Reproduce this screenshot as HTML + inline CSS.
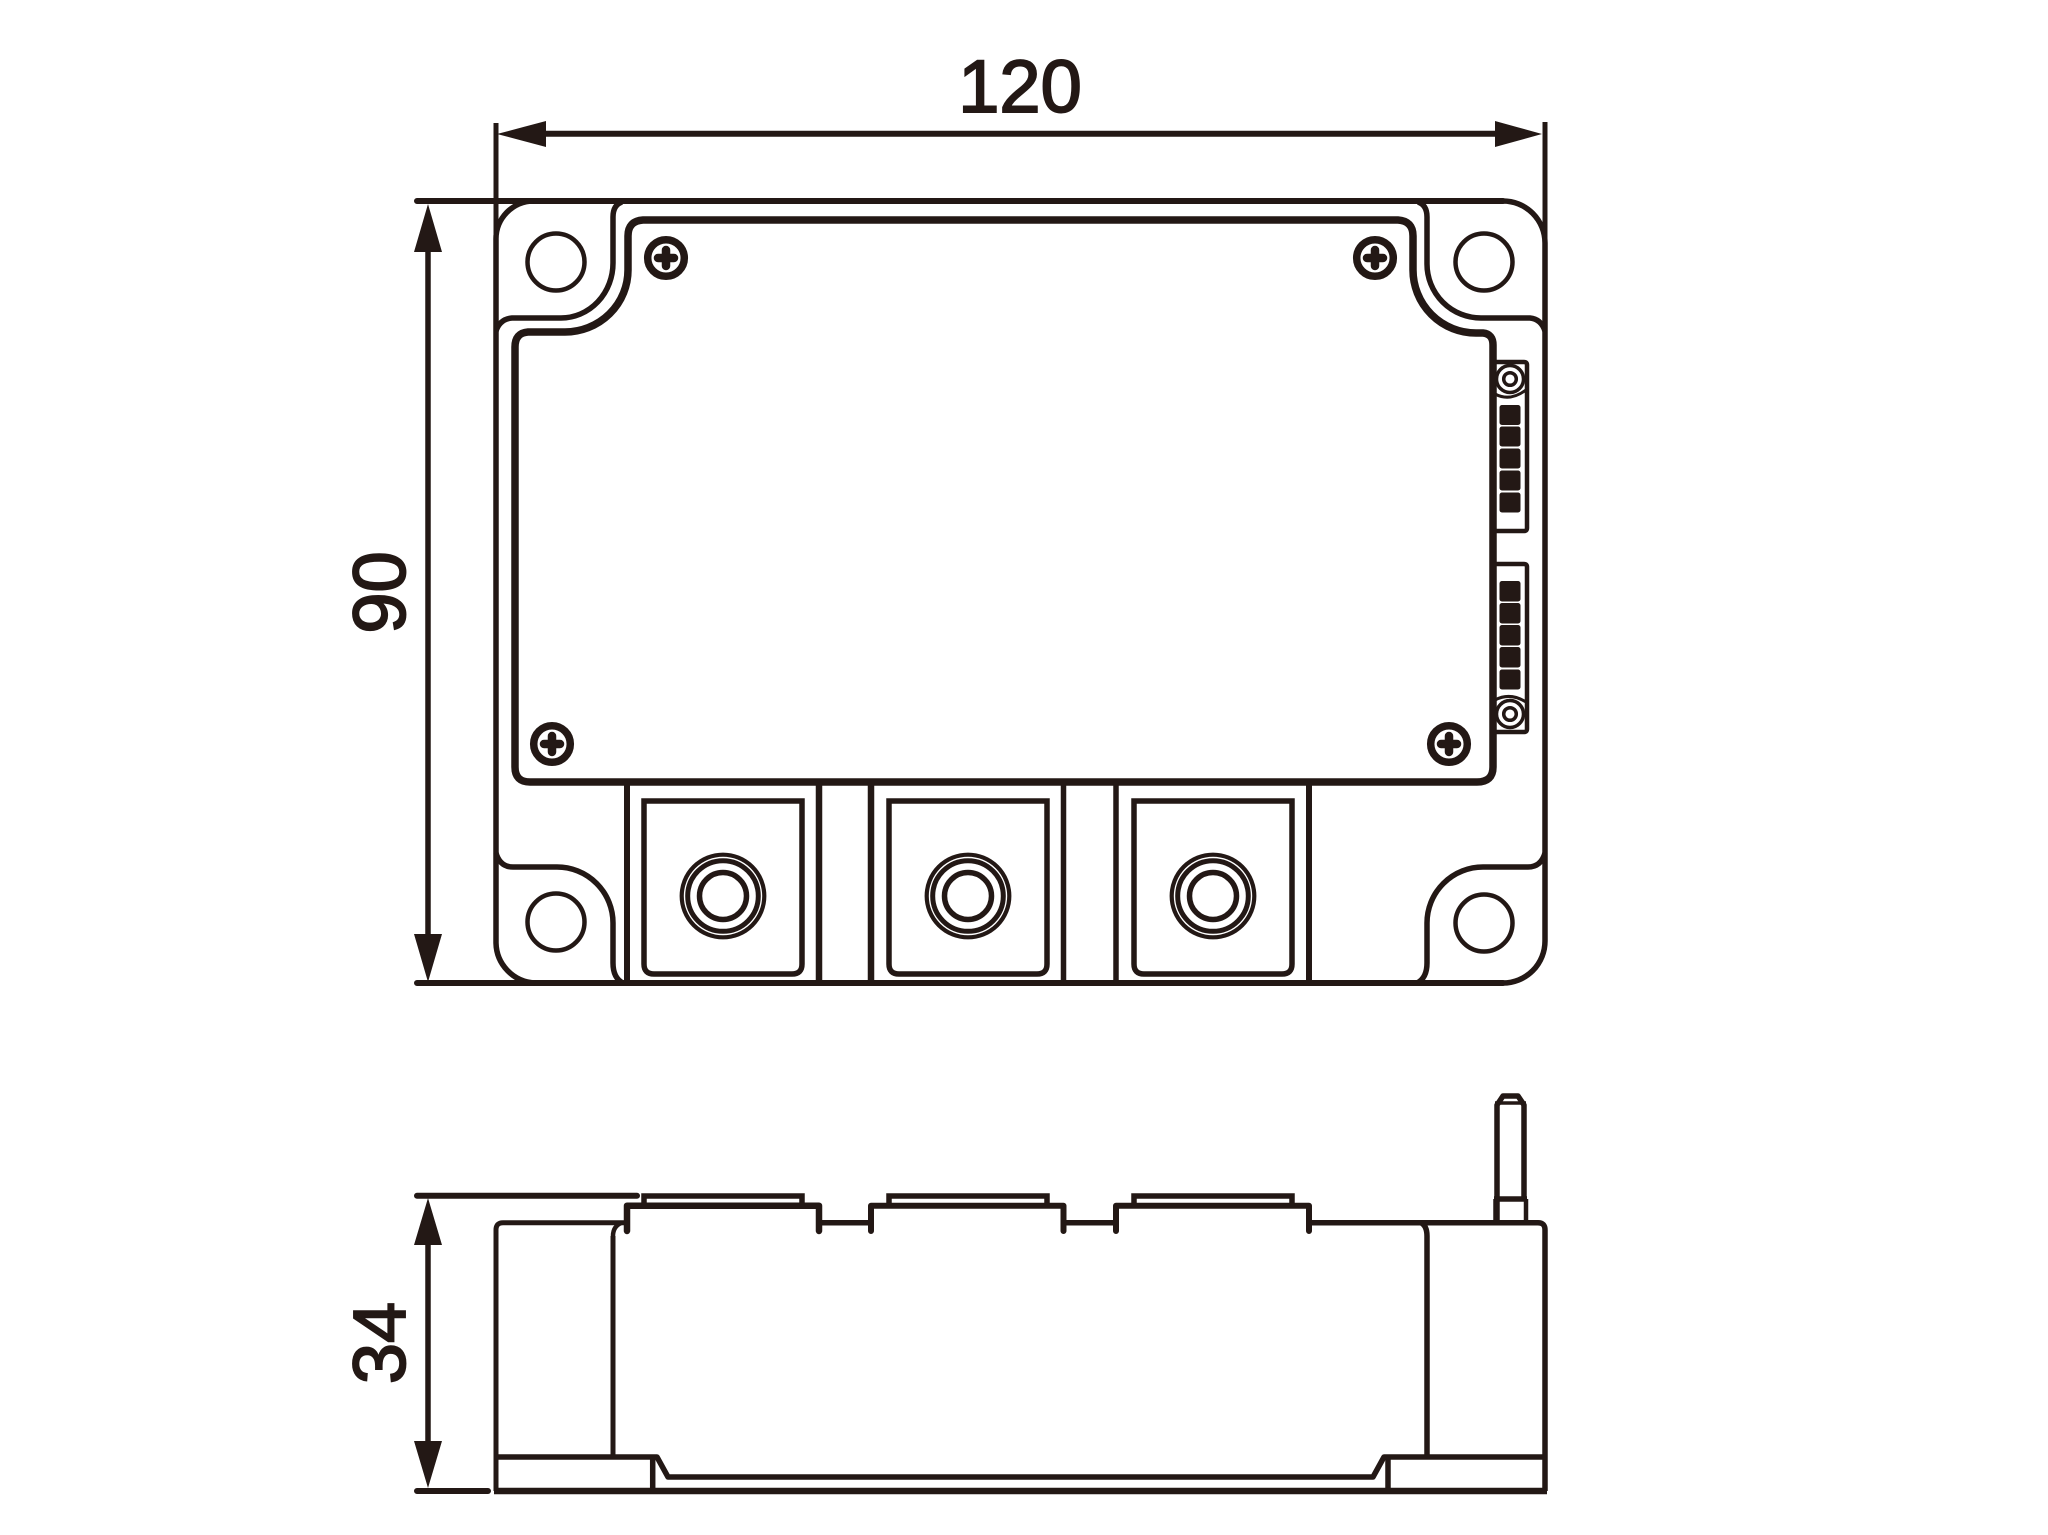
<!DOCTYPE html>
<html>
<head>
<meta charset="utf-8">
<style>
html,body{margin:0;padding:0;background:#fff;width:2048px;height:1535px;overflow:hidden}
svg{display:block}
text{font-family:"Liberation Sans",sans-serif;font-size:74px;fill:#231815;stroke:#231815;stroke-width:1.9px;text-anchor:middle}
</style>
</head>
<body>
<svg width="2048" height="1535" viewBox="0 0 2048 1535" xmlns="http://www.w3.org/2000/svg">
<rect width="2048" height="1535" fill="#fff"/>
<defs>
<g id="screw">
<circle r="18.3" fill="#fff" stroke="#231815" stroke-width="7.5"/>
<path d="M-8,0H8M0,-8V8" stroke="#231815" stroke-width="8.5" stroke-linecap="round" fill="none"/>
</g>
<g id="term" fill="none" stroke="#231815">
<path d="M0,801H158V964Q158,974 148,974H10Q0,974 0,964Z" stroke-width="5.5"/>
<circle cx="79" cy="896" r="41.3" stroke-width="4.2"/>
<circle cx="79" cy="896" r="35.3" stroke-width="5"/>
<circle cx="79" cy="896" r="23.5" stroke-width="5.5"/>
</g>
<g id="stepTop" fill="none" stroke="#231815">
<path d="M0,1206V1196H158V1206" stroke-width="5.5"/>
</g>
</defs>

<text x="1020" y="112">120</text>
<text transform="translate(405,592.5) rotate(-90)">90</text>
<text transform="translate(405,1343) rotate(-90)">34</text>

<g fill="none" stroke="#231815" stroke-linejoin="round">
<!-- dimensions -->
<path d="M496,123V240M1545,122V243" stroke-width="5"/>
<path d="M540,133.7H1500" stroke-width="6"/>
<path d="M428,240V940M428,1240V1446" stroke-width="5.5"/>
<path d="M417,201H1503M417,983H1503M417,1195.7H637M417,1491H488" stroke-width="6" stroke-linecap="round"/>

<!-- top view outer -->
<path d="M1503,201A42,42 0 0 1 1545,243V941A42,42 0 0 1 1503,983M534,201A38,38 0 0 0 496,240V943A41,41 0 0 0 535,983" stroke-width="5.5"/>
<!-- corner notches -->
<path d="M622,202Q613,205 613,217V263A52,55 0 0 1 561,318H512Q500,319 496,331" stroke-width="5.5"/>
<path d="M1418,202Q1427,205 1427,217V264A54,54 0 0 0 1481,318H1530Q1541,319 1545,331" stroke-width="5.5"/>
<path d="M496,853Q500,867 513,867H557A56,56 0 0 1 613,923V963Q613,978 623,983" stroke-width="5.5"/>
<path d="M1545,853Q1541,867 1528,867H1483A56,56 0 0 0 1427,923V963Q1427,978 1417,983" stroke-width="5.5"/>
<!-- holes -->
<circle cx="556" cy="262" r="28.5" stroke-width="4.5"/>
<circle cx="1484" cy="262" r="28.5" stroke-width="4.5"/>
<circle cx="556" cy="922" r="28.5" stroke-width="4.5"/>
<circle cx="1484" cy="923" r="28.5" stroke-width="4.5"/>
<!-- inner plate -->
<path d="M643,220H1398Q1413,221 1413,236V270A63,63 0 0 0 1476,333H1483Q1493,334 1493,345V767Q1493,782 1477,782H530Q515,782 515,767V347Q515,333 528,332H565A63,62 0 0 0 628,270V236Q628,221 643,220Z" stroke-width="7.5"/>
<!-- terminal dividers -->
<path d="M627,782V983M1309,782V983" stroke-width="6"/>
<path d="M819,782V983M871,782V983" stroke-width="6.5"/>
<path d="M1063.5,782V983M1116,782V983" stroke-width="5.5"/>
<!-- connectors -->
<path d="M1494,362H1524Q1527,362 1527,365V528Q1527,531 1524,531H1494" stroke-width="4.5"/>
<path d="M1494,564H1524Q1527,564 1527,567V729Q1527,732 1524,732H1494" stroke-width="4.5"/>
<circle cx="1510" cy="379" r="13.5" stroke-width="3.5"/>
<circle cx="1510" cy="379" r="6.3" stroke-width="3.5"/>
<circle cx="1510" cy="714" r="13.5" stroke-width="3.5"/>
<circle cx="1510" cy="714" r="6.3" stroke-width="3.5"/>
<path d="M1495,394Q1510,402 1526,390M1495,700Q1510,692 1526,702" stroke-width="3"/>

<!-- side view body -->
<path d="M496,1491V1230Q496,1222.7 503,1222.7H627M613,1236V1455" stroke-width="5"/>
<path d="M819,1222.7H871M1063.5,1222.7H1116M1309,1222.7H1538Q1545,1222.7 1545,1230V1491" stroke-width="5.5"/>
<path d="M1421,1222.7Q1427,1226 1427,1236V1455" stroke-width="5.5"/>
<path d="M613,1236Q613,1226 622,1222.7" stroke-width="4.5"/>
<path d="M496,1457H657L668,1477H1373L1384,1457H1545" stroke-width="5.5"/>
<path d="M652.7,1459V1491M1388,1459V1491" stroke-width="5.5"/>
<path d="M494,1491H1547" stroke-width="6.5"/>
<!-- side steps -->
<g stroke-linecap="round">
<path d="M627,1231V1205.7H819V1231" stroke-width="6.5"/>
<path d="M871,1231V1205.7H1063.5V1231" stroke-width="6"/>
<path d="M1116,1231V1205.7H1309V1231" stroke-width="6"/>
</g>
<!-- pin -->
<path d="M1497,1200V1105L1503,1096H1518L1524,1105V1200" stroke-width="5.5"/>
<path d="M1495,1103Q1510,1103 1526,1103" stroke-width="3.5"/>
<path d="M1494,1199H1527" stroke-width="5.5"/>
<path d="M1496.5,1199V1222" stroke-width="6.5"/>
<path d="M1526,1199V1222" stroke-width="4.5"/>
</g>

<!-- arrowheads -->
<g fill="#231815">
<path d="M497,134L546,121V147Z"/>
<path d="M1542,134L1495,121V147Z"/>
<path d="M428,204L414,252H442Z"/>
<path d="M428,982L414,934H442Z"/>
<path d="M428,1198L414,1245H442Z"/>
<path d="M428,1488L414,1441H442Z"/>
<!-- connector pads -->
<rect x="1499.5" y="405" width="21" height="20" rx="2.5"/>
<rect x="1499.5" y="426.5" width="21" height="20" rx="2.5"/>
<rect x="1499.5" y="448.5" width="21" height="20" rx="2.5"/>
<rect x="1499.5" y="470.5" width="21" height="20" rx="2.5"/>
<rect x="1499.5" y="492.5" width="21" height="20" rx="2.5"/>
<rect x="1499.5" y="581" width="21" height="20.5" rx="2.5"/>
<rect x="1499.5" y="603" width="21" height="20.5" rx="2.5"/>
<rect x="1499.5" y="625" width="21" height="20.5" rx="2.5"/>
<rect x="1499.5" y="647" width="21" height="20.5" rx="2.5"/>
<rect x="1499.5" y="669.5" width="21" height="20" rx="2.5"/>
</g>

<!-- screws -->
<use href="#screw" x="666" y="258"/>
<use href="#screw" x="1375" y="258"/>
<use href="#screw" x="552" y="744"/>
<use href="#screw" x="1449" y="744"/>

<!-- terminals top view -->
<use href="#term" x="644"/>
<use href="#term" x="889"/>
<use href="#term" x="1134"/>

<!-- terminals side view plates -->
<use href="#stepTop" x="644"/>
<use href="#stepTop" x="889"/>
<use href="#stepTop" x="1134"/>
</svg>
</body>
</html>
